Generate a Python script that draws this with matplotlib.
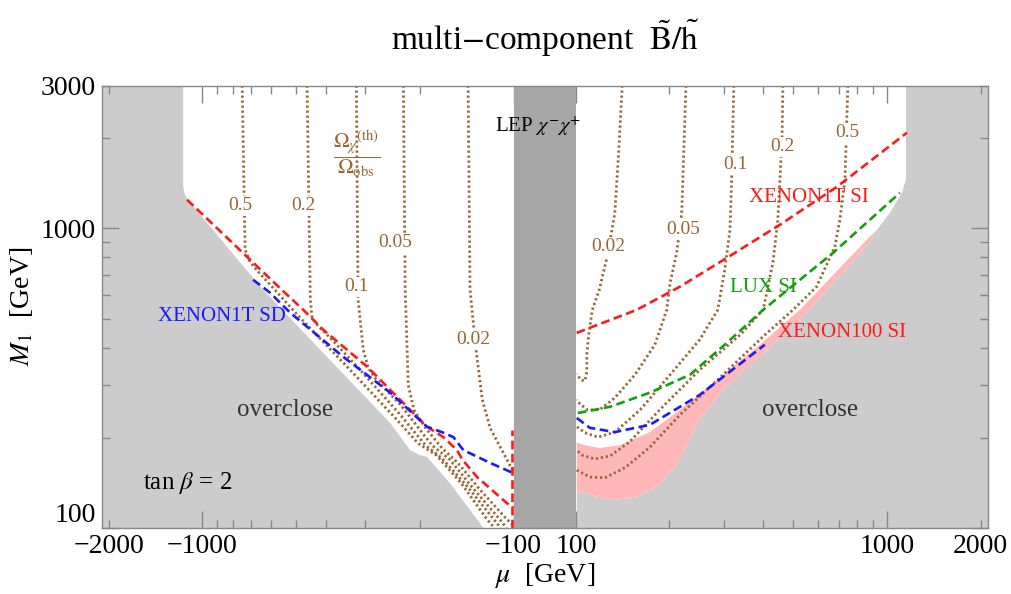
import matplotlib
matplotlib.use("Agg")
import matplotlib.pyplot as plt
from matplotlib.ticker import FixedLocator, NullFormatter

plt.rcParams['font.family'] = ['Liberation Serif', 'DejaVu Serif']
plt.rcParams['mathtext.fontset'] = 'stix'

# ---------------- data (mu in GeV, M1 in GeV) ----------------
# overclosure regions
over_left_mu = [-2200, -2200, -1153, -1153, -1140, -1110, -638, -249, -215, -200, -190, -160, -138, -125]
over_left_m1 = [100, 3000, 3000, 1380, 1300, 1240, 624, 224, 182, 175, 173, 141, 115, 100]

# right side: edge of the allowed (white) region and edge of the overclosed region
white_edge_mu = [1151, 1151, 1117, 1022, 929, 862, 525, 390, 290, 216, 173, 138.5, 119, 107, 100.7]
white_edge_m1 = [3000, 1455, 1316, 1128, 990, 917, 535, 409, 317, 248, 209, 189, 185, 189, 193]
over_right_mu = [1151, 1151, 1117, 1022, 929, 880, 545, 405, 301, 250, 216, 186, 155, 129, 111, 100.7]
over_right_m1 = [3000, 1455, 1316, 1128, 990, 900, 515, 387, 294, 230, 169, 139, 126, 124, 129, 132]

# relic density contours  Omega_th / Omega_obs
omega_levels = ['0.5', '0.2', '0.1', '0.05', '0.02']
omega_left = {
    '0.5': ([-745, -734, -729, -703, -662, -606, -485, -335, -240, -203, -177, -148, -121, -115],
            [3000, 1247, 849, 774, 717, 649, 503, 337, 233, 192, 175, 142, 106, 100]),
    '0.2': ([-461, -450, -444, -425, -388, -311, -231, -192, -170, -142, -115, -110],
            [3000, 578, 503, 473, 431, 337, 238.5, 189, 171, 139, 106, 100]),
    '0.1': ([-320, -316, -304, -293, -276, -231, -183, -160, -136, -110, -105.5],
            [3000, 578, 393, 342, 312, 258, 189, 169, 137, 106, 100]),
    '0.05': ([-226, -223, -218, -209, -192, -170, -151, -128, -106, -100.5],
             [3000, 624, 300, 248, 216, 185, 165, 134, 108, 102.3]),
    '0.02': ([-140, -138, -132, -126, -119, -110, -104, -100.2],
             [3000, 624, 393, 268, 216, 185, 166, 154]),
}
omega_right = {
    '0.02': ([141, 137.5, 133.5, 127, 119, 113, 110, 108.5, 108.5, 107, 103.8, 100.7],
             [3000, 1832, 1128, 830, 624, 535, 441, 379, 332, 310, 312, 327]),
    '0.05': ([226, 219, 211, 201, 196, 179.5, 155, 133.5, 119, 109, 103, 100.7],
             [3000, 1128, 830, 659, 535, 409, 325, 272, 248, 248, 260, 268]),
    '0.1': ([322, 317, 313, 301, 286, 250, 201, 161, 133.5, 118, 107, 100.7],
            [3000, 1492, 990, 728, 535, 425, 325, 248, 209, 201, 208, 218]),
    '0.2': ([463, 460, 446, 430, 400, 337, 250, 186, 149, 129, 115, 105, 100.7],
            [3000, 1979, 1069, 768, 535, 441, 337, 248, 194, 174, 170, 175, 182]),
    '0.5': ([749, 744, 733, 706, 680, 594, 499, 405, 290, 216, 173, 144, 124, 111, 100.7],
            [3000, 2436, 1455, 1069, 869, 639, 535, 441, 317, 238.5, 186, 159, 147, 148, 156]),
}
omega_label_left = {'0.5': (-756, 1190), '0.2': (-474, 1190), '0.1': (-320, 639),
                    '0.05': (-240, 896), '0.02': (-135, 425)}
omega_label_right = {'0.02': (127, 869), '0.05': (221, 990), '0.1': (325, 1632),
                     '0.2': (460, 1875), '0.5': (744, 2088)}

# direct detection limits
x1t_si_left_mu = [-1120, -556, -474, -409, -295, -190, -168, -152, -146, -131, -105, -100.2]
x1t_si_left_m1 = [1247, 624, 535, 459, 345, 218, 201, 182, 169, 148, 121, 117.5]
x1t_si_edge_mu = [-101, -101]
x1t_si_edge_m1 = [100, 213]
x1t_si_right_mu = [100.7, 111, 157, 216, 306, 453, 691, 1160]
x1t_si_right_m1 = [448, 466, 535, 639, 798, 1029, 1378, 2088]

x1t_sd_left_mu = [-687, -606, -522, -353, -249, -190, -168, -156, -145, -119, -101]
x1t_sd_left_m1 = [674, 610, 523, 373, 283, 218, 208, 201, 182, 165, 153]
x1t_sd_right_mu = [100.7, 111, 133.5, 173, 250, 405]
x1t_sd_right_m1 = [233, 216, 209, 221, 278, 409]

lux_si_mu = [101.5, 129, 173, 233, 301, 400, 672, 1101]
lux_si_m1 = [242, 254, 283, 325, 409, 535, 830, 1316]

# axes
x_ticks = [-2000, -1000, -100, 100, 1000, 2000]
x_ticklabels = ['\u22122000', '\u22121000', '\u2212100', '100', '1000', '2000']
x_minor = [-900, -800, -700, -600, -500, -400, -300, -200,
           200, 300, 400, 500, 600, 700, 800, 900]
y_ticks = [100, 1000, 3000]
y_ticklabels = ['100', '1000', '3000']
y_minor = [200, 300, 400, 500, 600, 700, 800, 900, 2000]

# ---------------- styles ----------------
GRAY = '#cccccc'
LEP_GRAY = '#a6a6a6'
PINK = '#ffb8b8'
BROWN = '#996633'
RED = '#ff1a1a'
BLUE = '#1a1aff'
GREEN = '#10a010'
dotted = dict(color=BROWN, lw=2.0, dashes=(0.8, 1.0), dash_capstyle='butt', zorder=4)
dashed = dict(lw=1.9, dashes=(3.3, 1.7), zorder=5)

fig = plt.figure(figsize=(10.11, 5.94), dpi=100)
ax = fig.add_axes([0.1004, 0.1111, 0.8769, 0.7449])
ax.set_xscale('symlog', linthresh=100, linscale=0.09)
ax.set_yscale('log')
ax.set_xlim(-2110, 2113)
ax.set_ylim(100, 3000)

# regions
ax.fill(over_left_mu, over_left_m1, color=GRAY, lw=0, zorder=1)
ax.fill(over_right_mu + [100.7, 2200, 2200], over_right_m1 + [100, 100, 3000],
        color=GRAY, lw=0, zorder=1)
ax.fill(white_edge_mu + over_right_mu[::-1], white_edge_m1 + over_right_m1[::-1],
        color=PINK, lw=0, zorder=2)
ax.axvspan(-100, 100, color=LEP_GRAY, lw=0, zorder=6)

# relic density contours
for lev in omega_levels:
    for cont, lab in ((omega_left, omega_label_left), (omega_right, omega_label_right)):
        mu, m1 = cont[lev]
        ax.plot(mu, m1, **dotted)
        ax.text(*lab[lev], lev, color=BROWN, fontsize=14, ha='center', va='center', zorder=7,
                bbox=dict(facecolor='white', edgecolor='none', pad=1.0))

# detection limits
ax.plot(x1t_si_left_mu, x1t_si_left_m1, color=RED, **dashed)
ax.plot(x1t_si_edge_mu, x1t_si_edge_m1, color=RED, **dashed)
ax.plot(x1t_si_right_mu, x1t_si_right_m1, color=RED, **dashed)
ax.plot(x1t_sd_left_mu, x1t_sd_left_m1, color=BLUE, **dashed)
ax.plot(x1t_sd_right_mu, x1t_sd_right_m1, color=BLUE, **dashed)
ax.plot(lux_si_mu, lux_si_m1, color=GREEN, **dashed)

# annotations
ax.text(-542, 248, 'overclose', fontsize=18, color='#333333', ha='center', va='center', zorder=8)
ax.text(565, 248, 'overclose', fontsize=18, color='#333333', ha='center', va='center', zorder=8)
ax.text(-1120, 141, r'tan $\beta$ = 2', fontsize=18, ha='center', va='center', zorder=8)
ax.text(-865, 507, 'XENON1T SD', fontsize=15, color=BLUE, ha='center', va='center', zorder=8)
ax.text(561, 1267, 'XENON1T SI', fontsize=15, color=RED, ha='center', va='center', zorder=8)
ax.text(400, 634, 'LUX SI', fontsize=15, color=GREEN, ha='center', va='center', zorder=8)
ax.text(716, 448, 'XENON100 SI', fontsize=15, color=RED, ha='center', va='center', zorder=8)
ax.text(-21, 2187, r'LEP $\chi^{-}\chi^{+}$', fontsize=15, ha='center', va='center', zorder=8)
ax.text(-320, 1777, r'$\dfrac{\Omega_{\chi}{}^{(\mathrm{th})}}{\Omega_{\mathrm{obs}}}$',
        fontsize=15, color=BROWN, ha='center', va='center', zorder=8)

# axes styling
ax.xaxis.set_major_locator(FixedLocator(x_ticks))
ax.set_xticklabels(x_ticklabels)
ax.xaxis.set_minor_locator(FixedLocator(x_minor))
ax.xaxis.set_minor_formatter(NullFormatter())
ax.yaxis.set_major_locator(FixedLocator(y_ticks))
ax.set_yticklabels(y_ticklabels)
ax.yaxis.set_minor_locator(FixedLocator(y_minor))
ax.yaxis.set_minor_formatter(NullFormatter())
ax.tick_params(which='both', direction='in', top=True, right=True, color='#888888',
               width=1.0, labelsize=20, pad=4, zorder=9)
ax.tick_params(which='major', length=12)
ax.tick_params(which='minor', length=6)
for i in (0, 5):
    ax.xaxis.get_major_ticks()[i].tick1line.set_markersize(6)
    ax.xaxis.get_major_ticks()[i].tick2line.set_markersize(6)
for t in ax.yaxis.get_major_ticks()[2:]:
    t.tick1line.set_markersize(6)
    t.tick2line.set_markersize(6)
ax.get_yticklabels()[0].set_verticalalignment('bottom')
for s in ax.spines.values():
    s.set_color('#888888')
    s.set_linewidth(1.0)
    s.set_zorder(10)

ax.set_xlabel(r'$\mu$  [GeV]', fontsize=20, labelpad=2)
ax.set_ylabel(r'$M_1$  [GeV]', fontsize=20, labelpad=4)
fig.text(0.539, 0.935, r'multi$-$component  $\tilde{\mathrm{B}}/\tilde{\mathrm{h}}$',
         fontsize=24, ha='center', va='center')

fig.savefig('out.png', dpi=100)
